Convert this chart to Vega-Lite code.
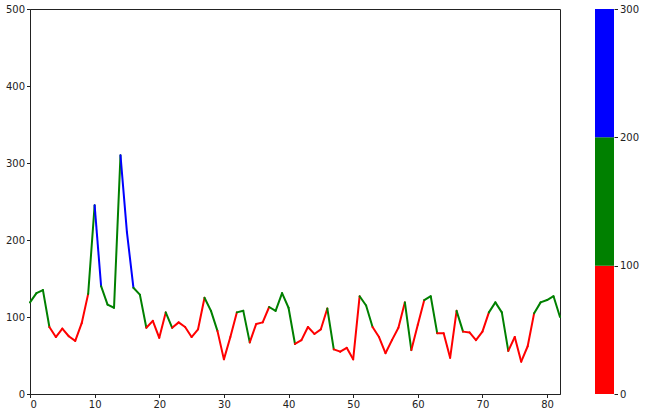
{
  "$schema": "https://vega.github.io/schema/vega-lite/v6.json",
  "padding": {"left": 4, "top": 3, "right": 5, "bottom": 5},
  "background": "white",
  "config": {
    "view": {"stroke": "#222", "strokeWidth": 1},
    "axis": {"labelFont": "DejaVu Sans", "labelFontSize": 10, "labelColor": "#222", "tickColor": "#222", "domainColor": "#222", "grid": false, "tickSize": 3.5, "labelPadding": 2, "title": null}
  },
  "spacing": 33,
  "hconcat": [
    {
      "width": 530,
      "height": 385,
      "data": {"values": [
        {"x":0,"y":119},{"x":1,"y":131},{"x":2,"y":135},{"x":3,"y":87},{"x":4,"y":74},{"x":5,"y":85},{"x":6,"y":75},{"x":7,"y":69},{"x":8,"y":92},{"x":9,"y":130},
        {"x":10,"y":245},{"x":11,"y":140},{"x":12,"y":116},{"x":13,"y":112},{"x":14,"y":310},{"x":15,"y":210},{"x":16,"y":138},{"x":17,"y":129},{"x":18,"y":86},{"x":19,"y":95},
        {"x":20,"y":73},{"x":21,"y":106},{"x":22,"y":86},{"x":23,"y":93},{"x":24,"y":87},{"x":25,"y":74},{"x":26,"y":84},{"x":27,"y":125},{"x":28,"y":108},{"x":29,"y":82},
        {"x":30,"y":45},{"x":31,"y":74},{"x":32,"y":106},{"x":33,"y":108},{"x":34,"y":67},{"x":35,"y":91},{"x":36,"y":93},{"x":37,"y":113},{"x":38,"y":108},{"x":39,"y":131},
        {"x":40,"y":112},{"x":41,"y":65},{"x":42,"y":70},{"x":43,"y":87},{"x":44,"y":78},{"x":45,"y":84},{"x":46,"y":111},{"x":47,"y":58},{"x":48,"y":55},{"x":49,"y":60},
        {"x":50,"y":45},{"x":51,"y":127},{"x":52,"y":115},{"x":53,"y":87},{"x":54,"y":74},{"x":55,"y":53},{"x":56,"y":70},{"x":57,"y":86},{"x":58,"y":119},{"x":59,"y":57},
        {"x":60,"y":90},{"x":61,"y":122},{"x":62,"y":127},{"x":63,"y":79},{"x":64,"y":79},{"x":65,"y":47},{"x":66,"y":108},{"x":67,"y":81},{"x":68,"y":80},{"x":69,"y":70},
        {"x":70,"y":81},{"x":71,"y":106},{"x":72,"y":119},{"x":73,"y":106},{"x":74,"y":56},{"x":75,"y":74},{"x":76,"y":42},{"x":77,"y":62},{"x":78,"y":105},{"x":79,"y":119},
        {"x":80,"y":122},{"x":81,"y":127},{"x":82,"y":100}
      ]},
      "transform": [
        {"window": [{"op": "lead", "field": "y", "as": "y_next"}, {"op": "lead", "field": "x", "as": "x_next"}], "sort": [{"field": "x"}]},
        {"filter": "datum.x_next != null"}
      ],
      "mark": {"type": "rule", "strokeWidth": 2, "strokeCap": "round"},
      "encoding": {
        "x": {"field": "x", "type": "quantitative", "scale": {"domain": [0, 82], "nice": false, "zero": false}, "axis": {"values": [0,10,20,30,40,50,60,70,80]}},
        "x2": {"field": "x_next"},
        "y": {"field": "y", "type": "quantitative", "scale": {"domain": [0, 500], "nice": false}, "axis": {"values": [0,100,200,300,400,500]}},
        "y2": {"field": "y_next"},
        "color": {"field": "y", "type": "quantitative", "scale": {"type": "threshold", "domain": [100, 200], "range": ["#ff0000", "#008000", "#0000ff"]}, "legend": null}
      }
    },
    {
      "width": 19,
      "height": 385,
      "view": {"stroke": null},
      "data": {"values": [{"lo": 0, "hi": 100}, {"lo": 100, "hi": 200}, {"lo": 200, "hi": 300}]},
      "mark": {"type": "rect"},
      "encoding": {
        "y": {"field": "lo", "type": "quantitative", "scale": {"domain": [0, 300], "nice": false}, "axis": {"orient": "right", "values": [0,100,200,300], "domain": false}},
        "y2": {"field": "hi"},
        "color": {"field": "lo", "type": "quantitative", "scale": {"type": "threshold", "domain": [100, 200], "range": ["#ff0000", "#008000", "#0000ff"]}, "legend": null}
      }
    }
  ]
}
